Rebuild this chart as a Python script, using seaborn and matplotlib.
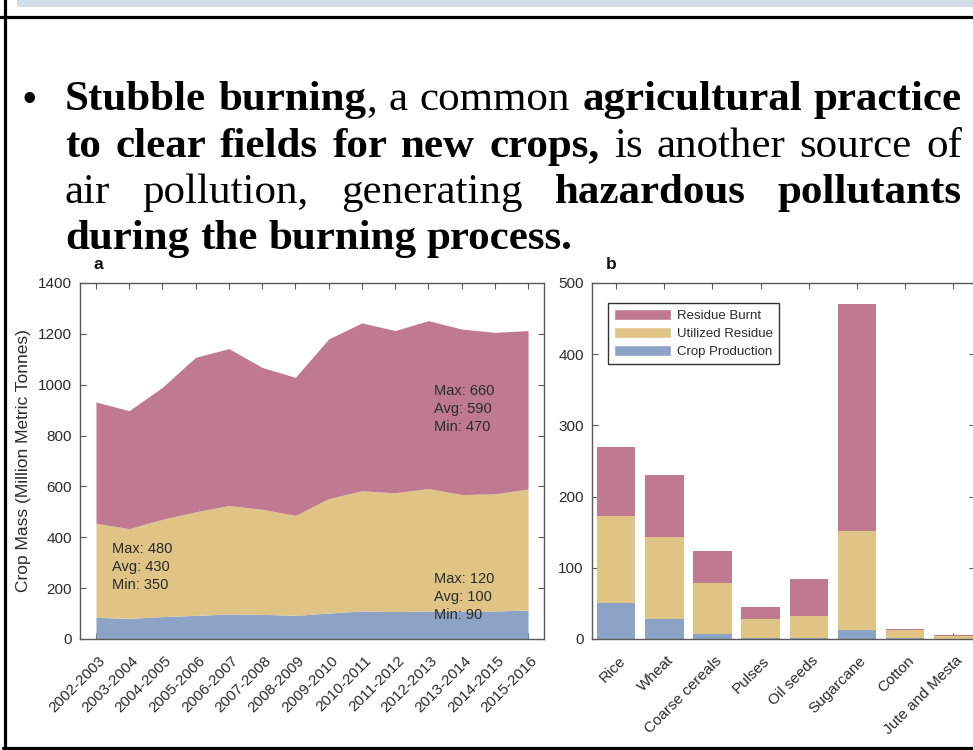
import numpy as np
import pandas as pd
import matplotlib
matplotlib.use("Agg")
import matplotlib.pyplot as plt
import seaborn as sns
from matplotlib.patches import Patch, Rectangle
from matplotlib.lines import Line2D
from matplotlib.transforms import IdentityTransform, ScaledTranslation

# ---------------- data ----------------
years = ["2002-2003", "2003-2004", "2004-2005", "2005-2006", "2006-2007",
         "2007-2008", "2008-2009", "2009-2010", "2010-2011", "2011-2012",
         "2012-2013", "2013-2014", "2014-2015", "2015-2016"]
crop_production = [85, 81, 88, 93, 98, 97, 93, 102, 110, 108, 110, 110, 110, 114]
utilized_residue = [370, 353, 383, 407, 427, 413, 393, 450, 473, 467, 482, 458, 461, 476]
residue_burnt = [477, 464, 519, 608, 617, 558, 543, 628, 660, 638, 660, 651, 635, 623]

crops = ["Rice", "Wheat", "Coarse cereals", "Pulses", "Oil seeds",
         "Sugarcane", "Cotton", "Jute and Mesta"]
bar_crop = [50, 28, 7, 1, 1, 13, 1, 0.5]
bar_utilized = [123, 115, 72, 27, 32, 138, 11, 3.5]
bar_burnt = [96, 87, 44, 17, 51, 320, 2.5, 1]

series_names = ["Residue Burnt", "Utilized Residue", "Crop Production"]
stats_burnt = "Max: 660\nAvg: 590\nMin: 470"
stats_utilized = "Max: 480\nAvg: 430\nMin: 350"
stats_crop = "Max: 120\nAvg: 100\nMin: 90"

slide_lines = [
    [[("Stubble", 1)], [("burning", 1), (",", 0)], [("a", 0)], [("common", 0)],
     [("agricultural", 1)], [("practice", 1)]],
    [[("to", 1)], [("clear", 1)], [("fields", 1)], [("for", 1)], [("new", 1)],
     [("crops,", 1)], [("is", 0)], [("another", 0)], [("source", 0)], [("of", 0)]],
    [[("air", 0)], [("pollution,", 0)], [("generating", 0)], [("hazardous", 1)],
     [("pollutants", 1)]],
    [[("during", 1)], [("the", 1)], [("burning", 1)], [("process.", 1)]],
]

PINK = "#BF7990"
YELLOW = "#DFC486"
BLUE = "#8DA3C5"
TXT = "#2b2b2b"
SPINE = "#5a5a5a"

sns.set_theme(style="ticks")
plt.rcParams["font.family"] = ["Liberation Sans", "DejaVu Sans"]

W, H = 973, 750
fig = plt.figure(figsize=(W / 100, H / 100), dpi=100)
fig.patch.set_facecolor("white")

def ax_rect(x0, y0, x1, y1):
    return [x0 / W, 1 - y1 / H, (x1 - x0) / W, (y1 - y0) / H]

axA = fig.add_axes(ax_rect(80, 283, 544, 639))
axB = fig.add_axes(ax_rect(592, 283, 975, 639))

# ---------------- panel a ----------------
xpos = np.arange(len(years))
axA.stackplot(xpos, crop_production, utilized_residue, residue_burnt,
              colors=[BLUE, YELLOW, PINK], linewidth=0)
axA.set_xlim(-0.48, len(years) - 1 + 0.48)
axA.set_ylim(0, 1400)
axA.set_yticks(np.arange(0, 1401, 200))
axA.set_xticks(xpos)
axA.set_xticklabels(years)
axA.set_ylabel("Crop Mass (Million Metric Tonnes)", fontsize=12.5, color=TXT)
axA.yaxis.set_label_coords(-0.105, 0.5)
axA.text(10.18, 1004, stats_burnt, fontsize=10.5, color=TXT, va="top", ha="left", linespacing=1.38)
axA.text(0.47, 383, stats_utilized, fontsize=10.5, color=TXT, va="top", ha="left", linespacing=1.38)
axA.text(10.18, 265, stats_crop, fontsize=10.5, color=TXT, va="top", ha="left", linespacing=1.38)

# ---------------- panel b ----------------
tot_util = [c + u for c, u in zip(bar_crop, bar_utilized)]
tot_all = [t + b for t, b in zip(tot_util, bar_burnt)]
df = pd.DataFrame({"crop": crops, "total": tot_all, "util": tot_util, "prod": bar_crop})
sns.barplot(data=df, x="crop", y="total", color=PINK, saturation=1, width=0.8,
            errorbar=None, ax=axB, linewidth=0)
sns.barplot(data=df, x="crop", y="util", color=YELLOW, saturation=1, width=0.8,
            errorbar=None, ax=axB, linewidth=0)
sns.barplot(data=df, x="crop", y="prod", color=BLUE, saturation=1, width=0.8,
            errorbar=None, ax=axB, linewidth=0)
axB.set_xlim(-0.5, len(crops) - 0.55)
axB.set_ylim(0, 500)
axB.set_yticks(np.arange(0, 501, 100))
axB.set_xlabel("")
axB.set_ylabel("")
handles = [Patch(facecolor=PINK, label=series_names[0]),
           Patch(facecolor=YELLOW, label=series_names[1]),
           Patch(facecolor=BLUE, label=series_names[2])]
leg = axB.legend(handles=handles, loc="upper left", bbox_to_anchor=(0.042, 0.944),
                 borderaxespad=0, fontsize=9.5, handlelength=4.3, handleheight=0.95,
                 handletextpad=0.45, labelspacing=0.35, borderpad=0.45,
                 frameon=True, fancybox=False, framealpha=1, edgecolor="#333333")
leg.get_frame().set_linewidth(1.0)
for t in leg.get_texts():
    t.set_color(TXT)

# ---------------- common axis styling ----------------
for ax in (axA, axB):
    for s in ax.spines.values():
        s.set_visible(True)
        s.set_color(SPINE)
        s.set_linewidth(1.0)
    ax.tick_params(direction="in", top=True, right=True, length=4, width=0.8,
                   colors=SPINE, labelcolor=TXT, labelsize=11)
    ax.tick_params(axis="y", pad=6)
    ax.tick_params(axis="x", pad=14)
    off = ScaledTranslation(7 / 100, 0, fig.dpi_scale_trans)
    for lab in ax.get_xticklabels():
        lab.set_rotation(45)
        lab.set_rotation_mode("anchor")
        lab.set_ha("right")
        lab.set_va("center")
        lab.set_fontsize(11)
        lab.set_transform(lab.get_transform() + off)
    ax.set_facecolor("white")
    ax.grid(False)

fig.text(93 / W, 1 - 265 / H, "a", fontsize=12.5, fontweight="bold", color="#111", va="center", ha="left")
fig.text(606 / W, 1 - 265 / H, "b", fontsize=12.5, fontweight="bold", color="#111", va="center", ha="left")

# ---------------- slide frame ----------------
idt = IdentityTransform()
fig.add_artist(Rectangle((17, H - 7), W - 17, 7, transform=idt, facecolor="#d3dde9", edgecolor="none"))
fig.add_artist(Line2D([0, W], [H - 17, H - 17], transform=idt, color="black", linewidth=2.3))
fig.add_artist(Line2D([4.5, 4.5], [0, H], transform=idt, color="black", linewidth=2.3))
fig.add_artist(Line2D([3, W], [H - 748, H - 748], transform=idt, color="black", linewidth=2.3))

# ---------------- bullet text (justified) ----------------
FS = 31
serif = ["Liberation Serif", "DejaVu Serif"]
renderer = fig.canvas.get_renderer()
X0, X1 = 65, 962
baselines = [110, 157, 203, 249]
fig.text(22, H - 101, "\u2022", transform=idt, fontsize=28, family=["Liberation Sans", "DejaVu Sans"],
         color="black", va="center", ha="left")
for li, words in enumerate(slide_lines):
    yb = H - baselines[li]
    objs = []
    widths = []
    for w in words:
        pieces = []
        wsum = 0
        for txt, b in w:
            t = fig.text(0, yb, txt, transform=idt, fontsize=FS, family=serif,
                         fontweight="bold" if b else "normal", color="black",
                         va="baseline", ha="left")
            ww = t.get_window_extent(renderer).width
            pieces.append((t, ww))
            wsum += ww
        objs.append(pieces)
        widths.append(wsum)
    total = sum(widths)
    if li < len(slide_lines) - 1:
        gap = (X1 - X0 - total) / (len(words) - 1)
    else:
        gap = 0.25 * FS * 100 / 72
    x = X0
    for pieces, ww in zip(objs, widths):
        xc = x
        for t, pw in pieces:
            t.set_x(xc)
            xc += pw
        x += ww + gap

fig.savefig("out.png", dpi=100, facecolor="white")
